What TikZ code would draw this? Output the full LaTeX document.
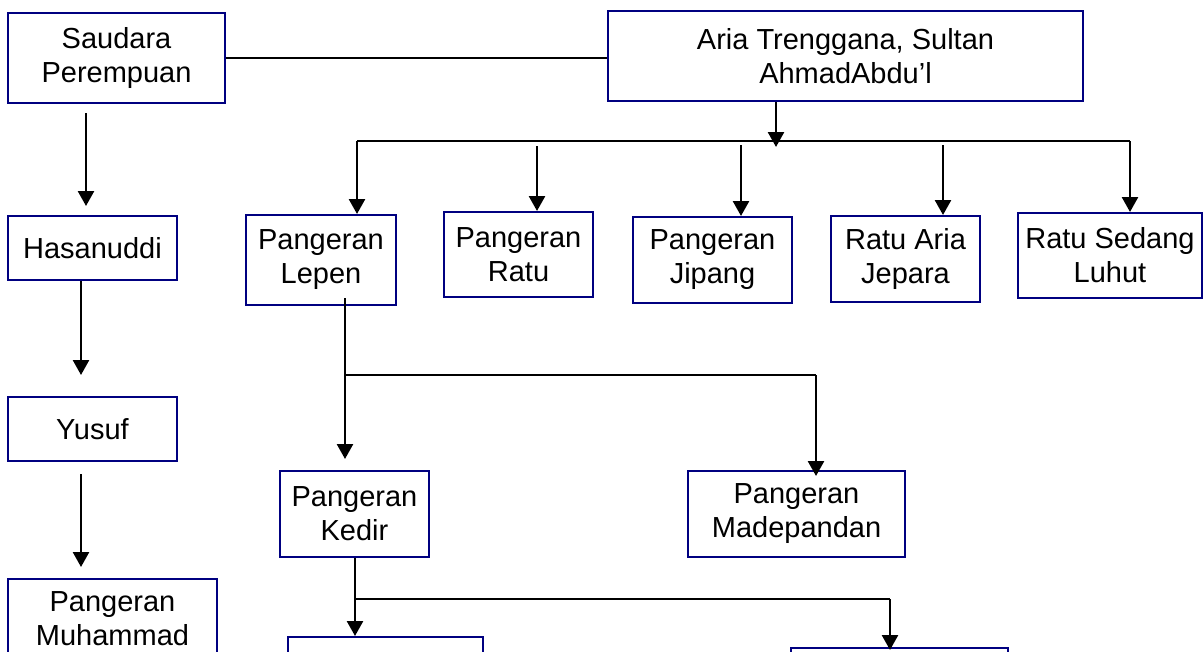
\documentclass[tikz,border=0pt]{standalone}
\usepackage{fontspec}
\setmainfont{Liberation Sans}
\usetikzlibrary{arrows.meta}
\definecolor{navy}{RGB}{0,0,128}
\begin{document}
\begin{tikzpicture}[x=1pt,y=-1pt,
  box/.style={draw=navy, line width=2pt, inner sep=0pt, align=center,
    font=\fontsize{29}{34}\selectfont},
  ln/.style={draw=black, line width=2pt},
  arr/.style={draw=black, line width=2.6pt, -{Triangle[width=16pt,length=15pt]}}]
\clip (0,0) rectangle (1204,651);
\fill[white] (0,0) rectangle (1204,651);
% boxes
\node[box, minimum width=217pt, minimum height=90pt] (saud) at (116.5,58) {Saudara\\Perempuan};
\node[box, minimum width=475pt, minimum height=90pt] (aria) at (845.5,56) {Aria Trenggana, Sultan\\AhmadAbdu'l};
\node[box, minimum width=169pt, minimum height=64pt] (hasan) at (92.5,248) {Hasanuddi};
\node[box, minimum width=169pt, minimum height=64pt] (yusuf) at (92.5,429) {Yusuf};
\node[box, minimum width=209pt, minimum height=80pt] (pm) at (112.5,619) {Pangeran\\Muhammad};
\node[box, minimum width=150pt, minimum height=90pt] (lepen) at (321,260) {Pangeran\\Lepen};
\node[box, minimum width=149pt, minimum height=85pt] (ratu) at (518.5,254.5) {Pangeran\\Ratu};
\node[box, minimum width=159pt, minimum height=86pt] (jipang) at (712.5,260) {Pangeran\\Jipang};
\node[box, minimum width=149pt, minimum height=86pt] (ratuaria) at (905.5,259) {Ratu Aria\\Jepara};
\node[box, minimum width=184pt, minimum height=85pt] (sedang) at (1110,255.5) {Ratu Sedang\\Luhut};
\node[box, minimum width=149pt, minimum height=86pt] (kedir) at (354.5,514) {Pangeran\\Kedir};
\node[box, minimum width=217pt, minimum height=86pt] (made) at (796.5,514) {Pangeran\\Madepandan};
\node[box, minimum width=195pt, minimum height=60pt] (botl) at (385.5,667) {};
\node[box, minimum width=217pt, minimum height=60pt] (botr) at (899.5,678) {};
% coordinates
\coordinate (a0) at (776,147);
\coordinate (b1) at (357,141);
\coordinate (b5) at (1130,141);
\coordinate (r2) at (537,146);
\coordinate (r3) at (741,145);
\coordinate (r4) at (943,145);
\coordinate (s0) at (86,113);
\coordinate (h0) at (81,0);
\coordinate (l0) at (345,298);
\coordinate (l1) at (345,375);
\coordinate (l2) at (816,375);
\coordinate (k1) at (355,599);
\coordinate (k2) at (890,599);
% connectors
\draw[ln] (saud.east) -- (saud.east -| aria.west);
\draw[arr] (aria.south -| a0) -- (a0);
\draw[ln] (b1) -- (b5);
\draw[arr] (b1) -- (b1 |- lepen.north);
\draw[arr] (r2) -- (r2 |- ratu.north);
\draw[arr] (r3) -- (r3 |- jipang.north);
\draw[arr] (r4) -- (r4 |- ratuaria.north);
\draw[arr] (b5) -- (b5 |- sedang.north);
\draw[arr, shorten >=9pt] (s0) -- (s0 |- hasan.north);
\draw[arr, shorten >=21pt] (hasan.south -| h0) -- (yusuf.north -| h0);
\draw[arr, shorten <=12pt, shorten >=11pt] (yusuf.south -| h0) -- (pm.north -| h0);
\draw[arr, shorten >=11pt] (l0) -- (l0 |- kedir.north);
\draw[ln] (l1) -- (l2);
\draw[arr, shorten >=-6pt] (l2) -- (l2 |- made.north);
\draw[arr] (kedir.south -| k1) -- (k1 |- botl.north);
\draw[ln] (k1) -- (k2);
\draw[arr, shorten >=-3pt] (k2) -- (k2 |- botr.north);
\end{tikzpicture}
\end{document}
